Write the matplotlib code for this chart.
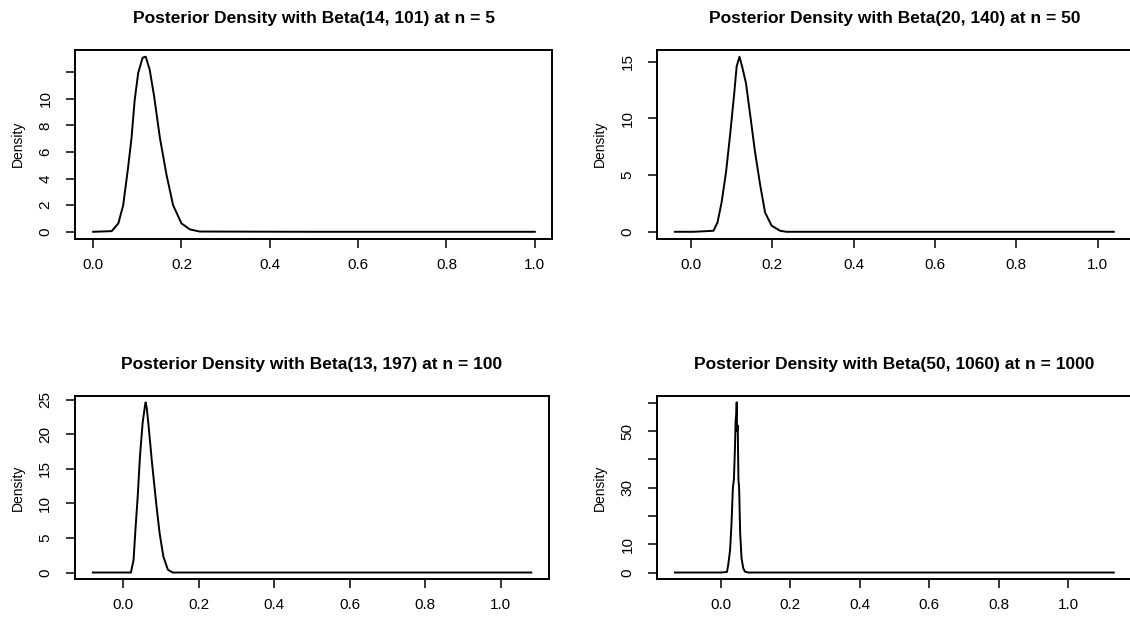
import matplotlib
matplotlib.use('Agg')
from matplotlib import pyplot as plt

plt.rcParams['font.family'] = ['Liberation Sans', 'DejaVu Sans']

# curves (x, density)
x1 = [0.0, 0.042, 0.057, 0.068, 0.079, 0.087, 0.094, 0.102, 0.112, 0.119, 0.128, 0.138,
      0.151, 0.166, 0.181, 0.200, 0.219, 0.241, 0.5, 1.0]
y1 = [0.0, 0.05, 0.63, 2.0, 4.8, 7.1, 9.9, 11.95, 13.1, 13.17, 12.2, 10.2,
      7.1, 4.3, 2.0, 0.63, 0.18, 0.02, 0.0, 0.0]

x2 = [-0.04, 0.006, 0.055, 0.065, 0.075, 0.086, 0.096, 0.106, 0.112, 0.119, 0.126, 0.135,
      0.145, 0.157, 0.170, 0.182, 0.198, 0.219, 0.235, 0.5, 1.04]
y2 = [0.0, 0.0, 0.09, 0.84, 2.6, 5.3, 8.6, 12.2, 14.6, 15.45, 14.5, 13.1,
      10.4, 7.1, 4.1, 1.7, 0.54, 0.09, 0.0, 0.0, 0.0]

x3 = [-0.081, 0.020, 0.027, 0.032, 0.038, 0.044, 0.051, 0.057, 0.059, 0.062, 0.067,
      0.076, 0.087, 0.096, 0.106, 0.118, 0.131, 0.5, 1.081]
y3 = [0.0, 0.0, 1.8, 6.2, 11.0, 16.8, 21.6, 24.0, 24.6, 23.8, 21.1,
      15.8, 10.0, 5.7, 2.3, 0.4, 0.0, 0.0, 0.0]

x4 = [-0.132, 0.0, 0.018, 0.022, 0.027, 0.031, 0.035, 0.038, 0.041, 0.043, 0.045, 0.046,
      0.047, 0.049, 0.051, 0.053, 0.056, 0.060, 0.065, 0.070, 0.080, 0.3, 0.6, 1.132]
y4 = [0.0, 0.0, 0.2, 3.0, 8.0, 17.0, 30.0, 33.0, 44.0, 54.0, 56.0, 60.2,
      50.0, 52.0, 33.0, 30.0, 14.0, 5.0, 1.5, 0.3, 0.0, 0.0, 0.0, 0.0]

titles = ['Posterior Density with Beta(14, 101) at n = 5',
          'Posterior Density with Beta(20, 140) at n = 50',
          'Posterior Density with Beta(13, 197) at n = 100',
          'Posterior Density with Beta(50, 1060) at n = 1000']

xticks = [0.0, 0.2, 0.4, 0.6, 0.8, 1.0]
yticks = [[0, 2, 4, 6, 8, 10, 12], [0, 5, 10, 15], [0, 5, 10, 15, 20, 25],
          [0, 10, 20, 30, 40, 50, 60]]
ylabels = [['0', '2', '4', '6', '8', '10', ''], ['0', '5', '10', '15'],
           ['0', '5', '10', '15', '20', '25'], ['0', '10', '', '30', '', '50', '']]

# axes boxes in figure fractions (the right column runs off the page in the scan)
boxes = [[0.0668, 0.6167, 0.4221, 0.3035],
         [0.5817, 0.6167, 0.4195, 0.3035],
         [0.0666, 0.0701, 0.4191, 0.2950],
         [0.5817, 0.0701, 0.4195, 0.2950]]

fig = plt.figure(figsize=(11.3, 6.23), dpi=100)

for i, (xs, ys) in enumerate([(x1, y1), (x2, y2), (x3, y3), (x4, y4)]):
    ax = fig.add_axes(boxes[i])
    ax.plot(xs, ys, color='black', lw=1.4)
    ax.margins(x=0.04, y=0.04)
    ax.set_title(titles[i], fontsize=12.5, fontweight='bold', pad=19)
    ax.set_ylabel('Density', fontsize=10, labelpad=10)
    ax.set_xticks(xticks)
    ax.set_xticklabels(['%.1f' % t for t in xticks])
    ax.set_yticks(yticks[i])
    ax.set_yticklabels(ylabels[i], rotation=90, va='center')
    ax.tick_params(direction='out', length=6.5, width=1.1, labelsize=11, color='black')
    ax.tick_params(axis='x', pad=7)
    ax.tick_params(axis='y', pad=10)
    for s in ax.spines.values():
        s.set_linewidth(1.4)

fig.savefig('out.png', dpi=100)
